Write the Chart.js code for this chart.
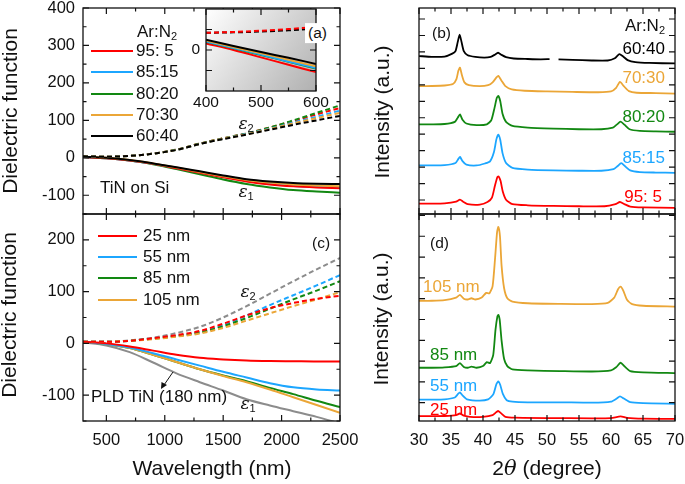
<!DOCTYPE html>
<html>
<head>
<meta charset="utf-8">
<script src="https://cdn.jsdelivr.net/npm/chart.js@4.4.1/dist/chart.umd.min.js"></script>
<style>
body { margin: 0; background: #fff; }
#wrap { position: relative; width: 685px; height: 484px; overflow: hidden; font-family: 'Liberation Sans', Arial, sans-serif; color: #111; }
#wrap canvas { position: absolute; left: 0; top: 0; }
.t { position: absolute; white-space: nowrap; font-size: 17px; line-height: 1.15; }
.t sub { font-size: 11px; vertical-align: -3px; line-height: 0; }
.sw { position: absolute; height: 2px; }
.eps { font-family: 'DejaVu Serif', serif; font-style: italic; }
</style>
</head>
<body>
<div id="wrap">
	<canvas id="chA" width="685" height="484"></canvas>
	<canvas id="chIn" width="685" height="484"></canvas>
	<canvas id="chC" width="685" height="484"></canvas>
	<canvas id="chB" width="685" height="484"></canvas>
	<canvas id="chD" width="685" height="484"></canvas>
	<svg id="arrow" width="685" height="484" style="position:absolute;left:0;top:0">
		<line x1="173" y1="372" x2="164" y2="385" stroke="#111" stroke-width="1"/>
		<polygon points="161,389 161.5,382 167,385" fill="#111"/>
	</svg>
</div>
<script>
// colours
var RED = '#ff0000', BLUE = '#1ca6ff', GREEN = '#128812', ORANGE = '#eba637', BLACK = '#000000', GREY = '#8c8c8c';

// wavelength grid (nm)
var wl = [300, 500, 700, 900, 1100, 1300, 1500, 1700, 1900, 2100, 2300, 2500];
var wlTicks = [500, 1000, 1500, 2000, 2500];

// (a) TiN on Si, Ar:N2 ratio
var arN2 = ['95: 5', '85:15', '80:20', '70:30', '60:40'];
var e1_95 = [2, -1, -7, -16, -28, -40, -52, -63, -71, -76, -79, -81];
var e1_85 = [2, -1, -7, -16, -27, -39, -51, -62, -70, -75, -78, -80];
var e1_80 = [2, -1, -7, -17, -30, -44, -58, -70, -79, -86, -90, -93];
var e1_70 = [3, 0, -6, -15, -26, -38, -49, -59, -66, -71, -74, -76];
var e1_60 = [3, 0, -6, -15, -25, -36, -47, -57, -63, -67, -69, -70];
var e2_95 = [4, 3, 5, 11, 22, 38, 52, 65, 81, 98, 116, 133];
var e2_85 = [4, 3, 5, 11, 21, 37, 51, 64, 78, 94, 110, 126];
var e2_80 = [4, 3, 5, 11, 22, 38, 52, 65, 81, 100, 120, 140];
var e2_70 = [4, 3, 5, 11, 21, 37, 51, 63, 77, 92, 106, 120];
var e2_60 = [4, 3, 5, 11, 21, 37, 50, 62, 75, 88, 100, 112];
var epsTicksA = [-100, 0, 100, 200, 300, 400];

// inset of (a), 400-600 nm
var wlIn = [400, 450, 500, 550, 600];
var in1_95 = [1.6, 0.0, -1.8, -3.6, -5.4];
var in1_85 = [2.1, 0.5, -1.1, -2.8, -4.4];
var in1_80 = [2.0, 0.4, -1.2, -2.9, -4.5];
var in1_70 = [2.3, 0.7, -0.8, -2.4, -4.0];
var in1_60 = [2.5, 1.0, -0.5, -1.9, -3.4];
var in2_95 = [4.2, 4.4, 4.7, 5.1, 5.6];
var in2_rest = [4.2, 4.3, 4.5, 4.8, 5.2];
var inXTicks = [400, 500, 600];
var inYTicks = [-5, 0, 5];

// (c) thickness series
var thick = ['25 nm', '55 nm', '85 nm', '105 nm'];
var c1_25 = [3, 0, -6, -14, -22, -28, -31, -33, -34, -34.5, -35, -35];
var c1_55 = [3, -1, -8, -19, -31, -43, -55, -66, -77, -85, -89, -91];
var c1_85 = [3, -1, -9, -22, -36, -50, -62, -73, -86, -98, -111, -123];
var c1_105 = [3, -1, -9, -22, -36, -50, -63, -75, -89, -104, -119, -134];
var c1_pld = [2, -4, -17, -37, -58, -75, -91, -108, -120, -131, -142, -155];
var c2_25 = [3, 3, 5, 10, 16, 24, 38, 54, 68, 78, 86, 92];
var c2_55 = [3, 3, 5, 9, 15, 22, 35, 54, 74, 93, 112, 132];
var c2_85 = [3, 3, 5, 9, 14, 21, 33, 49, 67, 85, 102, 120];
var c2_105 = [3, 3, 5, 8, 13, 19, 30, 44, 58, 72, 85, 99];
var c2_pld = [3, 3, 6, 11, 20, 32, 50, 72, 96, 120, 143, 165];
var epsTicksC = [-100, 0, 100, 200];

// (b) XRD, [2theta, intensity a.u.]
var x6040 = [[30,8.75],[32,8.7],[34,8.72],[35.2,8.9],[35.7,9.05],[36.05,9.6],[36.35,10.05],[36.65,9.6],[37,9.05],[37.6,8.8],[38.8,8.7],[40.2,8.66],[41.2,8.7],[41.8,8.82],[42.35,8.95],[42.9,8.82],[43.6,8.68],[44.8,8.6],[47,8.57],[49,8.55],[50.4,8.56],[50.5,null],[51.8,8.55],[54,8.52],[57,8.48],[59.5,8.48],[60.6,8.62],[61.3,8.87],[61.9,8.72],[62.6,8.5],[63.8,8.38],[66,8.33],[70,8.3]];
var x7030 = [[30,6.92],[32,6.93],[34,6.96],[35.3,7.05],[35.85,7.35],[36.15,7.85],[36.4,8.05],[36.7,7.6],[37.1,7.15],[37.8,6.98],[39.5,6.92],[40.8,6.98],[41.5,7.15],[42.1,7.45],[42.4,7.55],[42.9,7.25],[43.5,6.92],[44.5,6.72],[46.5,6.64],[50,6.6],[54,6.57],[58,6.55],[60,6.6],[60.8,6.82],[61.4,7.18],[62,6.92],[62.8,6.62],[64,6.52],[67,6.5],[70,6.47]];
var x8020 = [[30,4.6],[32,4.6],[34,4.62],[35.6,4.75],[36.05,5.0],[36.4,5.2],[36.8,4.88],[37.4,4.65],[39,4.55],[40.6,4.6],[41.3,4.85],[41.8,5.6],[42.15,6.2],[42.4,6.32],[42.7,6.0],[43.05,5.25],[43.6,4.75],[44.6,4.5],[47,4.4],[51,4.34],[55,4.3],[58.5,4.3],[60.3,4.4],[60.9,4.58],[61.5,4.76],[62.1,4.58],[62.9,4.3],[64.5,4.2],[67,4.17],[70,4.15]];
var x8515 = [[30,2.1],[32,2.1],[34,2.12],[35.7,2.25],[36.15,2.5],[36.4,2.62],[36.8,2.36],[37.4,2.15],[39,2.1],[40.3,2.22],[41.1,2.35],[41.7,2.9],[42.1,3.7],[42.4,3.97],[42.7,3.65],[43.05,2.85],[43.6,2.25],[44.6,1.95],[47,1.85],[51,1.8],[55,1.78],[58.5,1.78],[60.4,1.88],[61,2.05],[61.6,2.24],[62.2,2.05],[63,1.8],[64.5,1.7],[67,1.67],[70,1.65]];
var x9505 = [[30,-0.22],[32,-0.22],[34,-0.2],[35.8,-0.1],[36.4,0.02],[36.9,-0.1],[37.6,-0.25],[39.5,-0.28],[40.7,-0.12],[41.4,0.15],[41.85,0.85],[42.25,1.4],[42.45,1.43],[42.75,1.15],[43.1,0.5],[43.6,0.02],[44.6,-0.25],[47,-0.32],[51,-0.36],[55,-0.38],[59,-0.38],[60.7,-0.25],[61.4,-0.12],[62.1,-0.25],[63,-0.4],[65,-0.45],[70,-0.48]];
var xrdTicksB = [0, 1, 2, 3, 4, 5, 6, 7, 8, 9, 10, 11];

// (d) XRD vs thickness
var x105 = [[30,4.9],[32,4.9],[34,4.93],[35.8,5.05],[36.4,5.18],[37,5.0],[37.6,4.96],[38.2,5.02],[38.8,4.96],[39.8,5.06],[40.5,5.28],[41,5.26],[41.5,5.6],[41.9,7.0],[42.2,8.2],[42.4,8.45],[42.65,8.0],[42.9,6.6],[43.3,5.5],[43.8,5.02],[44.6,4.86],[47,4.78],[52,4.75],[57,4.74],[59.5,4.8],[60.5,5.05],[61.1,5.45],[61.5,5.58],[61.9,5.4],[62.5,4.95],[63.3,4.74],[65,4.66],[70,4.62]];
var x85 = [[30,1.68],[32,1.68],[34,1.7],[35.8,1.76],[36.4,1.9],[37,1.72],[37.6,1.68],[38.2,1.73],[39,1.68],[40,1.76],[40.6,1.95],[41.1,1.9],[41.6,2.3],[41.95,3.5],[42.25,4.15],[42.4,4.22],[42.6,4.0],[42.9,3.0],[43.3,2.1],[43.8,1.76],[44.6,1.6],[47,1.55],[52,1.52],[57,1.5],[60,1.55],[60.8,1.7],[61.5,1.92],[62.1,1.75],[63,1.52],[65,1.46],[70,1.42]];
var x55 = [[30,0.15],[32,0.15],[34,0.16],[35.6,0.25],[36.1,0.42],[36.4,0.5],[36.8,0.35],[37.5,0.16],[39.5,0.1],[40.8,0.16],[41.6,0.4],[42.1,0.9],[42.4,1.02],[42.7,0.85],[43.1,0.42],[43.7,0.12],[44.6,0.05],[47,0.02],[52,0.02],[57,0.0],[60,0.05],[60.9,0.2],[61.4,0.3],[62,0.2],[63,0.03],[65,-0.02],[70,-0.05]];
var x25 = [[30,-0.65],[32,-0.65],[34,-0.64],[35.8,-0.6],[36.4,-0.52],[37,-0.62],[38,-0.68],[40,-0.68],[41.5,-0.6],[42.1,-0.45],[42.4,-0.4],[42.8,-0.5],[43.5,-0.68],[45,-0.72],[50,-0.74],[57,-0.75],[60,-0.74],[61.5,-0.66],[62.5,-0.73],[65,-0.77],[70,-0.78]];
var xrdTicksD = [0, 1, 2, 3, 4, 5, 6, 7, 8, 9];
var thTicks = [30, 35, 40, 45, 50, 55, 60, 65, 70];

Chart.defaults.font.family = "'Liberation Sans', Arial, sans-serif";
Chart.defaults.font.size = 16.5;
Chart.defaults.color = '#111';
Chart.defaults.animation = false;
Chart.defaults.elements.point.radius = 0;
Chart.defaults.plugins.legend.display = false;
Chart.defaults.plugins.tooltip.enabled = false;

// box frame + inward ticks on all four sides
var frameTicks = {
	id: 'frameTicks',
	afterDraw: function(chart, args, opt) {
		var ctx = chart.ctx, a = chart.chartArea;
		var xs = chart.scales.x, ys = chart.scales.y;
		ctx.save();
		ctx.strokeStyle = '#111';
		ctx.lineWidth = 1.3;
		ctx.strokeRect(a.left, a.top, a.right - a.left, a.bottom - a.top);
		ctx.lineWidth = 1.2;
		ctx.beginPath();
		function xTick(v, len) {
			var p = xs.getPixelForValue(v);
			ctx.moveTo(p, a.bottom); ctx.lineTo(p, a.bottom - len);
			ctx.moveTo(p, a.top); ctx.lineTo(p, a.top + len);
		}
		function yTick(v, len) {
			var p = ys.getPixelForValue(v);
			ctx.moveTo(a.left, p); ctx.lineTo(a.left + len, p);
			ctx.moveTo(a.right, p); ctx.lineTo(a.right - len, p);
		}
		function isMajor(s, v) {
			return s.ticks.some(function(t) { return Math.abs(t.value - v) < 1e-6; });
		}
		xs.ticks.forEach(function(t) { xTick(t.value, 6); });
		ys.ticks.forEach(function(t) { yTick(t.value, 6); });
		var v;
		if (opt.xMinor) {
			for (v = Math.ceil(xs.min / opt.xMinor) * opt.xMinor; v <= xs.max; v += opt.xMinor) {
				if (!isMajor(xs, v)) xTick(v, 3.5);
			}
		}
		if (opt.yMinor) {
			for (v = Math.ceil(ys.min / opt.yMinor) * opt.yMinor; v <= ys.max; v += opt.yMinor) {
				if (!isMajor(ys, v)) yTick(v, 3.5);
			}
		}
		ctx.stroke();
		ctx.restore();
	}
};
Chart.register(frameTicks);

// grey gradient behind the inset
var shade = {
	id: 'shade',
	beforeDatasetsDraw: function(chart) {
		var a = chart.chartArea, ctx = chart.ctx;
		var g = ctx.createLinearGradient(a.left, a.top, a.right, a.bottom);
		g.addColorStop(0, '#ffffff');
		g.addColorStop(1, '#b0b0b0');
		ctx.fillStyle = g;
		ctx.fillRect(a.left, a.top, a.right - a.left, a.bottom - a.top);
	}
};

// size = fixed thickness of the axis box (labels are clipped to it)
function axis(min, max, ticks, show, pad, size, cb, fontSize) {
	return {
		type: 'linear', min: min, max: max,
		grid: { display: false, drawTicks: false },
		border: { display: false },
		ticks: {
			display: show, padding: pad, autoSkip: false, maxRotation: 0,
			font: { size: fontSize || 16.5 },
			callback: cb || function(v) { return String(v); }
		},
		afterBuildTicks: function(s) {
			s.ticks = ticks.map(function(v) { return { value: v }; });
		},
		afterFit: function(s) {
			if (s.isHorizontal()) s.height = size; else s.width = size;
			s.paddingLeft = 0; s.paddingRight = 0; s.paddingTop = 0; s.paddingBottom = 0;
		}
	};
}

function xy(xs, ys) {
	return xs.map(function(x, i) { return { x: x, y: ys[i] }; });
}

function eps(data, color, dashed) {
	return {
		data: data, borderColor: color, borderWidth: 2, fill: false,
		cubicInterpolationMode: 'monotone',
		borderDash: dashed ? [5, 3] : []
	};
}

function xrd(data, color) {
	return { data: data, borderColor: color, borderWidth: 1.8, fill: false, tension: 0.2 };
}

// area = plot rectangle in page pixels
function makeChart(id, datasets, area, xAx, yAx, xH, yW, minor, extra) {
	return new Chart(document.getElementById(id), {
		type: 'line',
		data: { datasets: datasets },
		options: {
			responsive: false,
			layout: { padding: { left: area[0] - yW, top: area[1], right: 685 - area[2], bottom: 484 - area[3] - xH } },
			scales: { x: xAx, y: yAx },
			plugins: { frameTicks: minor }
		},
		plugins: extra || []
	});
}

// (a)
makeChart('chA', [
	eps(xy(wl, e2_60), BLACK, true), eps(xy(wl, e2_70), ORANGE, true), eps(xy(wl, e2_85), BLUE, true),
	eps(xy(wl, e2_80), GREEN, true), eps(xy(wl, e2_95), RED, true),
	eps(xy(wl, e1_60), BLACK), eps(xy(wl, e1_70), ORANGE), eps(xy(wl, e1_95), RED),
	eps(xy(wl, e1_85), BLUE), eps(xy(wl, e1_80), GREEN)
], [83, 8, 340, 214],
	axis(300, 2500, wlTicks, false, 10, 30),
	axis(-150, 400, epsTicksA, true, 8, 50),
	30, 50, { xMinor: 250, yMinor: 50 });

// inset
makeChart('chIn', [
	eps(xy(wlIn, in2_95), RED, true), eps(xy(wlIn, in2_rest), BLACK, true),
	eps(xy(wlIn, in1_60), BLACK), eps(xy(wlIn, in1_70), ORANGE), eps(xy(wlIn, in1_85), BLUE),
	eps(xy(wlIn, in1_80), GREEN), eps(xy(wlIn, in1_95), RED)
], [206, 9, 316, 91],
	axis(400, 600, inXTicks, true, 2, 24, null, 15.5),
	axis(-10, 10, inYTicks, true, 6, 20, function(v) { return v === 0 ? '0' : ''; }, 15.5),
	24, 20, { xMinor: 50 }, [shade]);

// (c)
makeChart('chC', [
	eps(xy(wl, c2_25), RED, true), eps(xy(wl, c2_105), ORANGE, true), eps(xy(wl, c2_85), GREEN, true),
	eps(xy(wl, c2_55), BLUE, true), eps(xy(wl, c2_pld), GREY, true),
	eps(xy(wl, c1_25), RED), eps(xy(wl, c1_55), BLUE), eps(xy(wl, c1_105), ORANGE),
	eps(xy(wl, c1_85), GREEN), eps(xy(wl, c1_pld), GREY)
], [83, 214, 340, 421],
	axis(300, 2500, wlTicks, true, 10, 30),
	axis(-150, 250, epsTicksC, true, 8, 50),
	30, 50, { xMinor: 250, yMinor: 50 });

// (b)
makeChart('chB', [
	xrd(x6040, BLACK), xrd(x7030, ORANGE), xrd(x8020, GREEN), xrd(x8515, BLUE), xrd(x9505, RED)
], [419, 8, 675, 214],
	axis(30, 70, thTicks, false, 10, 30),
	axis(-0.85, 11.67, xrdTicksB, false, 8, 10),
	30, 10, { xMinor: 2.5 });

// (d)
makeChart('chD', [
	xrd(x105, ORANGE), xrd(x85, GREEN), xrd(x55, BLUE), xrd(x25, RED)
], [419, 214, 675, 421],
	axis(30, 70, thTicks, true, 10, 30),
	axis(-0.88, 9.07, xrdTicksD, false, 8, 10),
	30, 10, { xMinor: 2.5 });

// text annotations
var wrap = document.getElementById('wrap');
function addText(html, x, y, anchor, style) {
	var d = document.createElement('div');
	d.className = 't';
	d.innerHTML = html;
	d.style.left = x + 'px';
	d.style.top = y + 'px';
	var tr = { l: 'translate(0,-50%)', c: 'translate(-50%,-50%)', r: 'translate(-100%,-50%)', v: 'translate(-50%,-50%) rotate(-90deg)' };
	d.style.transform = tr[anchor];
	if (style) d.setAttribute('style', d.getAttribute('style') + ';' + style);
	wrap.appendChild(d);
	return d;
}
function swatch(x1, x2, y, color) {
	var d = document.createElement('div');
	d.className = 'sw';
	d.style.left = x1 + 'px';
	d.style.width = (x2 - x1) + 'px';
	d.style.top = (y - 1) + 'px';
	d.style.background = color;
	wrap.appendChild(d);
}

var colsA = [RED, BLUE, GREEN, ORANGE, BLACK];
addText('Ar:N<sub>2</sub>', 137, 32, 'l');
arN2.forEach(function(s, i) {
	var y = [51, 72, 94, 115, 136][i];
	swatch(91, 133, y, colsA[i]);
	addText(s, 136, y, 'l');
});
addText('TiN on Si', 100, 188, 'l');
addText('(a)', 305, 33, 'l', 'background:#fff;padding:1px 3px;font-size:15.5px');
addText('<span class="eps">ε</span><sub>2</sub>', 246, 124, 'c');
addText('<span class="eps">ε</span><sub>1</sub>', 246, 192, 'c');

var colsC = [RED, BLUE, GREEN, ORANGE];
thick.forEach(function(s, i) {
	var y = [236, 257, 278, 300][i];
	swatch(98, 137, y, colsC[i]);
	addText(s, 143, y, 'l');
});
addText('(c)', 312, 243, 'l', 'font-size:15.5px');
addText('<span class="eps">ε</span><sub>2</sub>', 248, 292, 'c');
addText('<span class="eps">ε</span><sub>1</sub>', 248, 404, 'c');
addText('PLD TiN (180 nm)', 91, 397, 'l');

addText('Dielectric function', 10, 111, 'v', 'font-size:21px');
addText('Dielectric function', 9, 315, 'v', 'font-size:21px');
addText('Wavelength (nm)', 212, 468, 'c', 'font-size:21px');

addText('(b)', 432, 33, 'l', 'font-size:15.5px');
addText('Ar:N<sub>2</sub>', 665, 26, 'r');
addText('60:40', 665, 49, 'r', 'color:' + BLACK);
addText('70:30', 665, 78, 'r', 'color:' + ORANGE);
addText('80:20', 665, 117, 'r', 'color:' + GREEN);
addText('85:15', 665, 158, 'r', 'color:' + BLUE);
addText('95: 5', 662, 197, 'r', 'color:' + RED);

addText('(d)', 430, 243, 'l', 'font-size:15.5px');
addText('105 nm', 423, 287, 'l', 'color:' + ORANGE);
addText('85 nm', 430, 355, 'l', 'color:' + GREEN);
addText('55 nm', 430, 386, 'l', 'color:' + BLUE);
addText('25 nm', 430, 410, 'l', 'color:' + RED);

addText('Intensity (a.u.)', 382, 112, 'v', 'font-size:21px');
addText('Intensity (a.u.)', 381, 319, 'v', 'font-size:21px');
addText('2<span style="font-family:\'DejaVu Serif\',serif;font-style:italic">θ</span> (degree)', 547, 468, 'c', 'font-size:21px');
</script>
</body>
</html>
